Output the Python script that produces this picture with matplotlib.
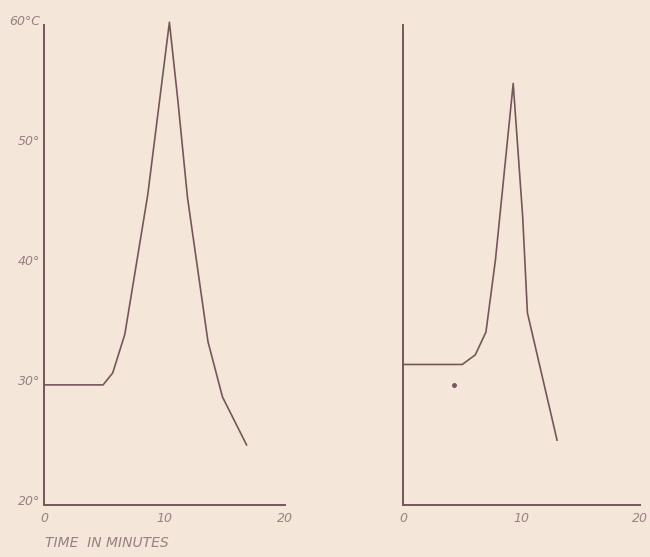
import matplotlib.pyplot as plt

# readings (minutes, deg C)
left_time = [0, 4.9, 5.7, 6.7, 8.6, 10.4, 11.1, 11.9, 13.6, 14.8, 16.8]
left_temp = [29.6, 29.6, 30.6, 33.8, 45.4, 59.8, 53.3, 45.2, 33.2, 28.6, 24.6]

right_time = [0, 5.0, 6.1, 7.0, 7.8, 9.3, 10.1, 10.5, 13.0]
right_temp = [31.3, 31.3, 32.1, 34.0, 40.0, 54.7, 43.6, 35.6, 25.0]
dot_time = [4.3]
dot_temp = [29.6]

x_ticks = [0, 10, 20]
x_labels = ["0", "10", "20"]
y_ticks = [20, 30, 40, 50, 60]
y_labels = ["20°", "30°", "40°", "50°", "60°C"]

paper = "#f4e6d8"
ink = "#76565c"
label_ink = "#9a7f84"

fig = plt.figure(figsize=(6.5, 5.57), dpi=100, facecolor=paper)

ax1 = fig.add_axes([0.0677, 0.0934, 0.371, 0.871])
ax2 = fig.add_axes([0.62, 0.0934, 0.3646, 0.871])

for ax in (ax1, ax2):
    ax.set_facecolor(paper)
    ax.set_xlim(0, 20)
    ax.set_ylim(19.6, 60)
    for side in ("top", "right"):
        ax.spines[side].set_visible(False)
    for side in ("left", "bottom"):
        ax.spines[side].set_color(ink)
        ax.spines[side].set_linewidth(1.4)
    ax.spines["left"].set_bounds(19.6, 59.6)
    ax.set_xticks(x_ticks)
    ax.set_xticklabels(x_labels, fontstyle="italic", fontsize=9, color=label_ink)
    ax.tick_params(length=0, pad=5)

ax1.set_yticks(y_ticks)
ax1.set_yticklabels(y_labels, fontstyle="italic", fontsize=9, color=label_ink)
ax1.tick_params(axis="y", pad=3)
ax2.set_yticks([])

ax1.plot(left_time, left_temp, color=ink, lw=1.2, solid_joinstyle="round")
ax2.plot(right_time, right_temp, color=ink, lw=1.2, solid_joinstyle="round")
ax2.plot(dot_time, dot_temp, "o", color=ink, ms=2.5)

fig.text(0.069, 0.026, "TIME  IN MINUTES", fontstyle="italic",
         fontsize=10, color=label_ink, ha="left", va="center")

fig.savefig("out.png", dpi=100, facecolor=paper)
